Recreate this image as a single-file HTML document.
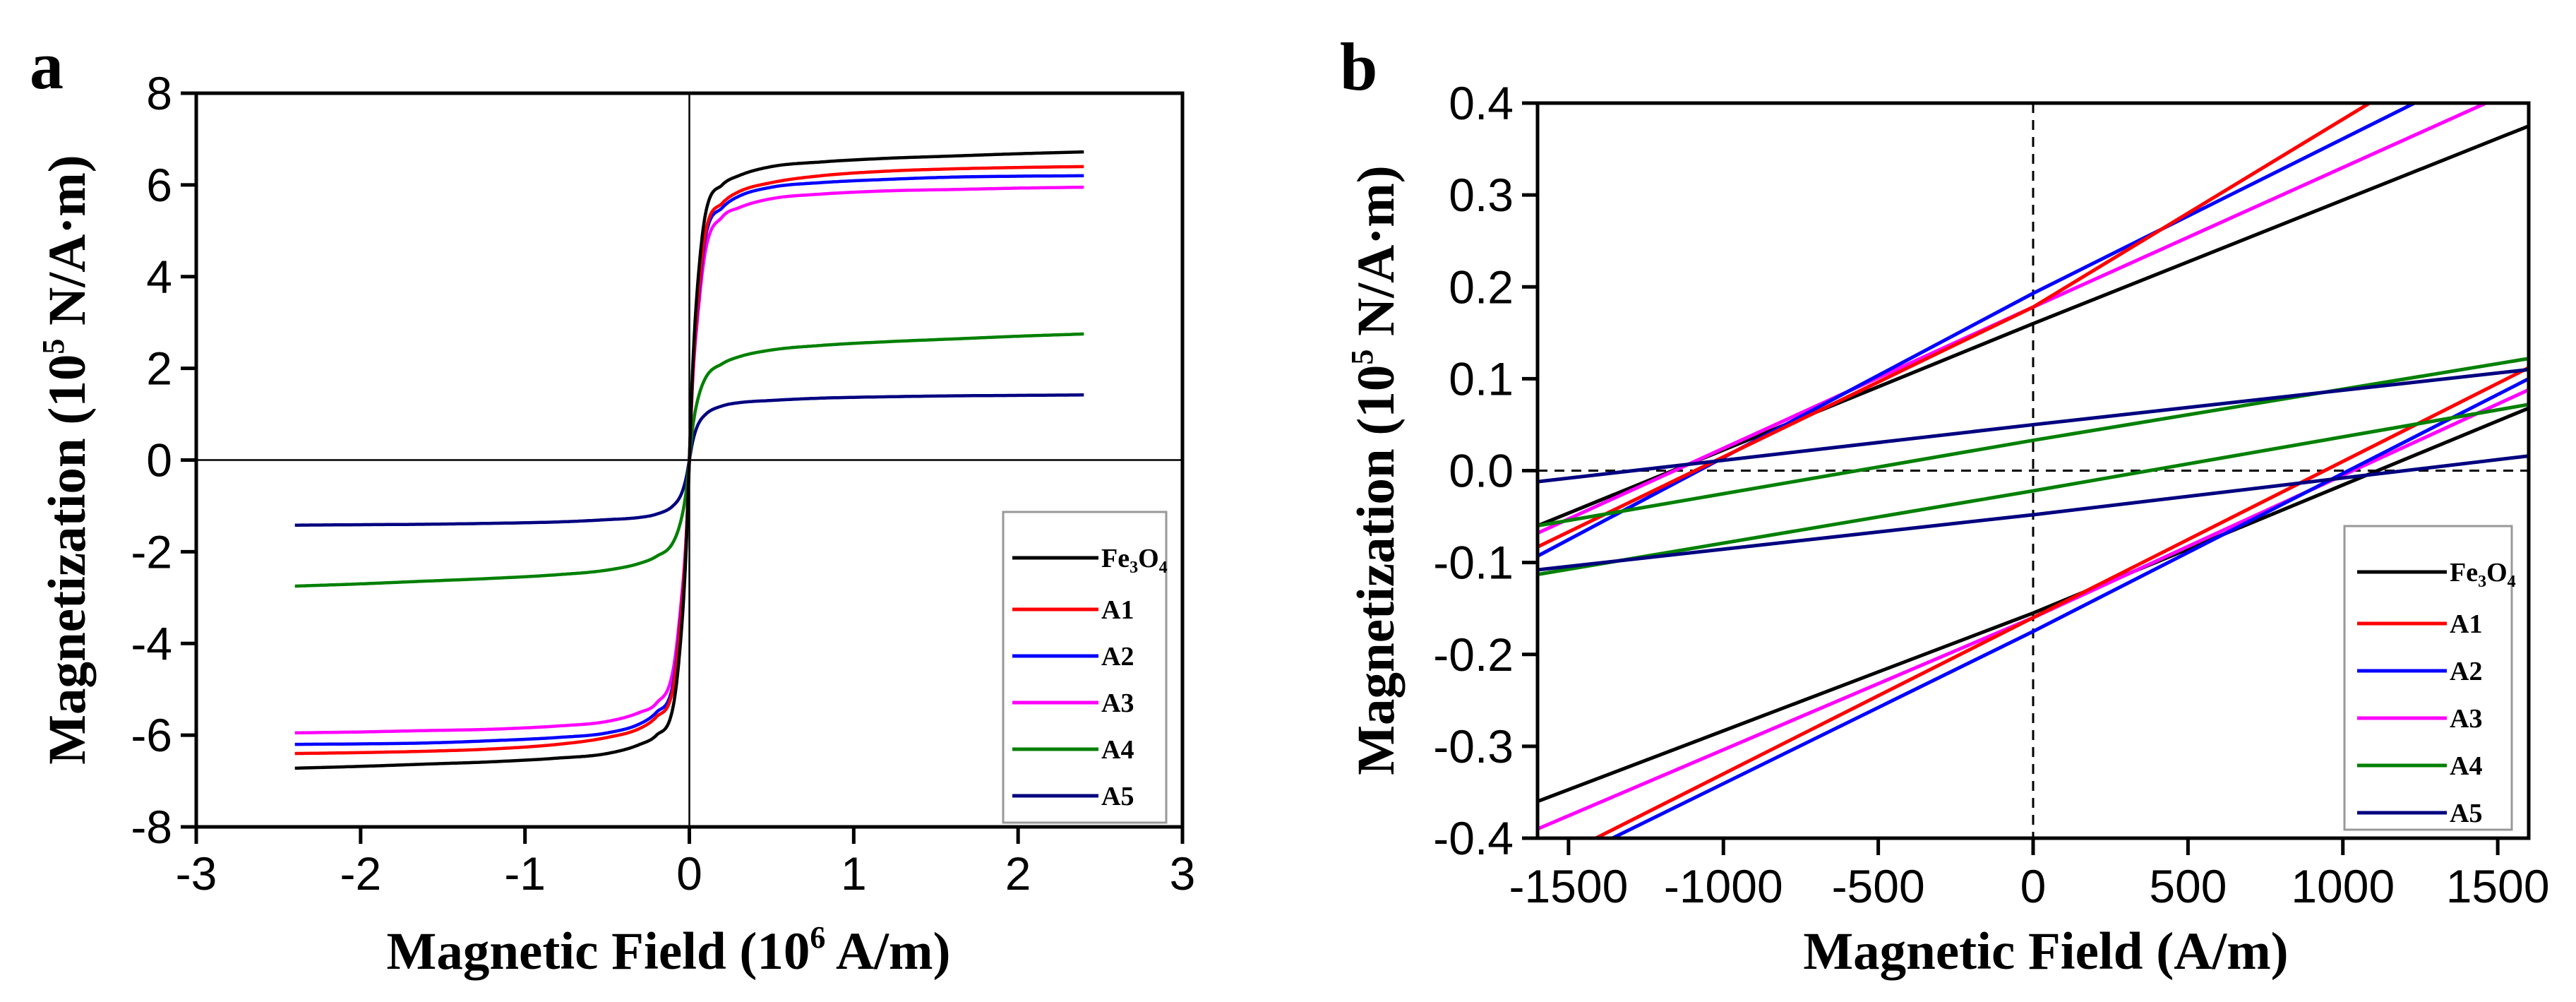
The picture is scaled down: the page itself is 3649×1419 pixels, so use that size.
<!DOCTYPE html>
<html><head><meta charset="utf-8"><style>
html,body{margin:0;padding:0;background:#fff;}
svg{display:block;}
.tick{font-family:"Liberation Sans",sans-serif;font-size:66px;fill:#000;}
.ttl{font-family:"Liberation Serif",serif;font-weight:bold;font-size:75px;fill:#000;}
.leg{font-family:"Liberation Serif",serif;font-weight:bold;font-size:38px;fill:#000;}
</style></head><body>
<svg id="fig" width="3649" height="1419" viewBox="0 0 3649 1419" xmlns="http://www.w3.org/2000/svg">
<rect width="3649" height="1419" fill="#fff"/>
<text x="42" y="125" font-family="Liberation Serif,serif" font-weight="bold" font-size="96">a</text>
<text x="1898" y="127" font-family="Liberation Serif,serif" font-weight="bold" font-size="96">b</text>
<g id="pa"></g>
<g id="pb"></g>
<text class="ttl" x="947" y="1372" text-anchor="middle">Magnetic Field (10<tspan dy="-30" font-size="44">6</tspan><tspan dy="30"> A/m)</tspan></text>
<text class="ttl" transform="translate(120,651) rotate(-90)" text-anchor="middle">Magnetization (10<tspan dy="-30" font-size="44">5</tspan><tspan dy="30"> N/A·m)</tspan></text>
<text class="ttl" x="2898" y="1372" text-anchor="middle">Magnetic Field (A/m)</text>
<text class="ttl" transform="translate(1974,666) rotate(-90)" text-anchor="middle">Magnetization (10<tspan dy="-30" font-size="44">5</tspan><tspan dy="30"> N/A·m)</tspan></text>
</svg>
<script>
// ---- shared data ----
const seriesNames = ["Fe3O4","A1","A2","A3","A4","A5"];
const seriesColors = ["#000000","#ff0000","#0000ff","#ff00ff","#008000","#000080"];
// ---- panel a data (positive branch; curve is antisymmetric) ----
const fieldA = [0, 0.02, 0.05, 0.1, 0.2, 0.3, 0.5, 0.8, 1.2, 1.6, 2.0, 2.4];
const magFe3O4 = [0, 2.0, 3.8, 5.4, 6.0, 6.2, 6.4, 6.5, 6.58, 6.63, 6.68, 6.72];
const magA1 = [0, 1.8, 3.4, 5.0, 5.6, 5.85, 6.05, 6.2, 6.3, 6.35, 6.38, 6.4];
const magA2 = [0, 1.8, 3.3, 4.9, 5.5, 5.75, 5.95, 6.05, 6.12, 6.17, 6.19, 6.2];
const magA3 = [0, 1.7, 3.1, 4.6, 5.3, 5.5, 5.7, 5.8, 5.87, 5.9, 5.93, 5.95];
const magA4 = [0, 0.7, 1.3, 1.8, 2.1, 2.25, 2.4, 2.5, 2.58, 2.64, 2.7, 2.75];
const magA5 = [0, 0.4, 0.75, 1.0, 1.18, 1.25, 1.3, 1.35, 1.38, 1.4, 1.41, 1.42];
const xTicksA = [-3,-2,-1,0,1,2,3];
const yTicksA = [-8,-6,-4,-2,0,2,4,6,8];
// ---- panel b data: lines sampled at fieldB ----
const fieldB = [-1600, 0, 1600];
const upFe3O4 = [-0.06, 0.16, 0.375];
const loFe3O4 = [-0.36, -0.155, 0.068];
const upA1 = [-0.083, 0.178, 0.505];
const loA1 = [-0.432, -0.16, 0.112];
const upA2 = [-0.093, 0.193, 0.462];
const loA2 = [-0.44, -0.175, 0.10];
const upA3 = [-0.068, 0.178, 0.421];
const loA3 = [-0.39, -0.16, 0.088];
const upA4 = [-0.06, 0.033, 0.122];
const loA4 = [-0.113, -0.022, 0.072];
const upA5 = [-0.012, 0.05, 0.11];
const loA5 = [-0.108, -0.048, 0.016];
const xTicksB = [-1500,-1000,-500,0,500,1000,1500];
const yTicksB = [-0.4,-0.3,-0.2,-0.1,0.0,0.1,0.2,0.3,0.4];

const NS="http://www.w3.org/2000/svg";
function mk(parent,tag,attrs){const e=document.createElementNS(NS,tag);for(const k in attrs)e.setAttribute(k,attrs[k]);parent.appendChild(e);return e;}

// monotone cubic (Fritsch-Carlson) sampler
function monotone(xs,ys,n){
  const N=xs.length,d=[],m=new Array(N);
  for(let i=0;i<N-1;i++)d.push((ys[i+1]-ys[i])/(xs[i+1]-xs[i]));
  m[0]=d[0];m[N-1]=d[N-2];
  for(let i=1;i<N-1;i++){m[i]=(d[i-1]*d[i]<=0)?0:(d[i-1]+d[i])/2;}
  for(let i=0;i<N-1;i++){if(d[i]===0){m[i]=m[i+1]=0;continue;}
    const a=m[i]/d[i],b=m[i+1]/d[i],s=a*a+b*b;if(s>9){const t=3/Math.sqrt(s);m[i]=t*a*d[i];m[i+1]=t*b*d[i];}}
  const out=[];
  for(let i=0;i<N-1;i++){const h=xs[i+1]-xs[i];
    for(let k=0;k<n;k++){const t=k/n,t2=t*t,t3=t2*t;
      const y=(2*t3-3*t2+1)*ys[i]+(t3-2*t2+t)*h*m[i]+(-2*t3+3*t2)*ys[i+1]+(t3-t2)*h*m[i+1];
      out.push([xs[i]+t*h,y]);}}
  out.push([xs[N-1],ys[N-1]]);return out;
}

function axesFrame(g,L,R,T,B,xs,ys,xT,yT,xFmt,yFmt,tlY,prefix){
  mk(g,'rect',{x:L,y:T,width:R-L,height:B-T,fill:'none',stroke:'#000','stroke-width':5});
  xT.forEach(v=>{const x=xs(v);
    const t=mk(g,'line',{x1:x,x2:x,y1:B,y2:B+24,stroke:'#000','stroke-width':5});
    
    
    const l=mk(g,'text',{x:x,y:tlY,'text-anchor':'middle',class:'tick'});l.textContent=xFmt(v);
    
    });
  yT.forEach(v=>{const y=ys(v);
    const t=mk(g,'line',{x1:L-22,x2:L,y1:y,y2:y,stroke:'#000','stroke-width':5});
    
    
    const l=mk(g,'text',{x:L-34,y:y+23,'text-anchor':'end',class:'tick'});l.textContent=yFmt(v);
    
    });
}
function legend(g,bx,by,bw,bh,x1,x2,ys0,dy1,dy){
  const r=mk(g,'rect',{x:bx,y:by,width:bw,height:bh,fill:'#fff',stroke:'#999','stroke-width':3});
  
  
  seriesNames.forEach((n,i)=>{const y=i===0?ys0:ys0+dy1+(i-1)*dy;
    const ln=mk(g,'line',{x1:x1,x2:x2,y1:y,y2:y,stroke:seriesColors[i],'stroke-width':5});
    
    
    const t=mk(g,'text',{x:x2+4,y:y+13,class:'leg'});
    if(n==="Fe3O4"){t.innerHTML='Fe<tspan dy="8" font-size="24">3</tspan><tspan dy="-8">O</tspan><tspan dy="8" font-size="24">4</tspan>';}
    else t.textContent=n;
    
    });
}

// ---- panel a ----
(function(){
  const g=document.getElementById('pa');
  const L=278,R=1675,T=132,B=1171;
  const xs=v=>L+(v+3)/6*(R-L), ys=v=>B-(v+8)/16*(B-T);
  const clip=mk(g,'clipPath',{id:'ca'});mk(clip,'rect',{x:L,y:T,width:R-L,height:B-T});
  mk(g,'line',{x1:xs(0),x2:xs(0),y1:T,y2:B,stroke:'#000','stroke-width':2.5});
  mk(g,'line',{x1:L,x2:R,y1:ys(0),y2:ys(0),stroke:'#000','stroke-width':2.5});
  const all=[magFe3O4,magA1,magA2,magA3,magA4,magA5];
  [5,4,3,2,1,0].forEach(i=>{const m=all[i];
    const hx=[],my=[];
    for(let k=fieldA.length-1;k>0;k--){hx.push(-fieldA[k]);my.push(-m[k]);}
    for(let k=0;k<fieldA.length;k++){hx.push(fieldA[k]);my.push(m[k]);}
    const pts=monotone(hx,my,20).map(p=>xs(p[0]).toFixed(1)+','+ys(p[1]).toFixed(1));
    const p=mk(g,'polyline',{points:pts.join(' '),fill:'none',stroke:seriesColors[i],'stroke-width':4.5,'stroke-linejoin':'round','clip-path':'url(#ca)'});
    
    });
  axesFrame(g,L,R,T,B,xs,ys,xTicksA,yTicksA,v=>String(v),v=>String(v),1260,'panel-a');
  legend(g,1421,725,231,440,1434,1556,790,73,66);
})();

// ---- panel b ----
(function(){
  const g=document.getElementById('pb');
  const L=2178,R=3582,T=146,B=1187;
  const xs=v=>L+(v+1600)/3200*(R-L), ys=v=>B-(v+0.4)/0.8*(B-T);
  const clip=mk(g,'clipPath',{id:'cb'});mk(clip,'rect',{x:L,y:T,width:R-L,height:B-T});
  mk(g,'line',{x1:xs(0),x2:xs(0),y1:T,y2:B,stroke:'#000','stroke-width':3,'stroke-dasharray':'14,10'});
  mk(g,'line',{x1:L,x2:R,y1:ys(0),y2:ys(0),stroke:'#000','stroke-width':3,'stroke-dasharray':'14,10'});
  const ups=[upFe3O4,upA1,upA2,upA3,upA4,upA5], los=[loFe3O4,loA1,loA2,loA3,loA4,loA5];
  [0,3,2,1,4,5].forEach(i=>{[[ups[i],'upper'],[los[i],'lower']].forEach(([arr,b])=>{
    const pts=fieldB.map((h,k)=>xs(h)+','+ys(arr[k])).join(' ');
    const p=mk(g,'polyline',{points:pts,fill:'none',stroke:seriesColors[i],'stroke-width':5,'clip-path':'url(#cb)'});
    
    });});
  axesFrame(g,L,R,T,B,xs,ys,xTicksB,yTicksB,v=>String(v),v=>v.toFixed(1),1278,'panel-b');
  legend(g,3321,745,237,430,3339,3466,810,73,67);
})();
</script>
</body></html>
